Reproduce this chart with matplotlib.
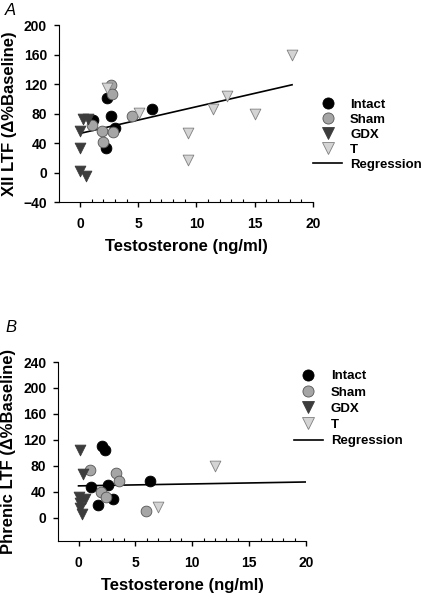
import numpy as np
import matplotlib
matplotlib.use('Agg')
import matplotlib.pyplot as plt
from matplotlib.lines import Line2D

plt.rcParams['font.family'] = ['Liberation Sans', 'DejaVu Sans']
plt.rcParams['font.weight'] = 'bold'
plt.rcParams['axes.labelweight'] = 'bold'

# panel A: XII LTF
a_intact_x = [1.1, 2.2, 2.3, 2.7, 3.0, 6.2]
a_intact_y = [71, 33, 101, 77, 60, 86]
a_sham_x = [1.0, 1.9, 2.0, 2.65, 2.75, 2.85, 4.5]
a_sham_y = [65, 57, 41, 119, 107, 55, 76]
a_gdx_x = [0.0, 0.0, 0.0, 0.5, 0.3, 0.7]
a_gdx_y = [57, 33, 2, -5, 72, 72]
a_t_x = [2.3, 5.1, 9.3, 9.3, 11.4, 12.6, 15.0, 18.2]
a_t_y = [115, 81, 53, 17, 86, 104, 79, 159]
a_reg_x = [0.0, 18.2]
a_reg_y = [53, 119]

# panel B: phrenic LTF
b_intact_x = [2.05, 2.35, 1.1, 2.6, 1.75, 3.05, 6.3]
b_intact_y = [110, 104, 47, 51, 19, 29, 57]
b_sham_x = [1.0, 3.3, 3.55, 1.95, 2.4, 5.9]
b_sham_y = [73, 69, 56, 40, 32, 10]
b_gdx_x = [0.15, 0.4, 0.0, 0.55, 0.1, 0.15, 0.3]
b_gdx_y = [104, 67, 32, 29, 22, 15, 5]
b_t_x = [7.0, 12.0]
b_t_y = [16, 80]
b_reg_x = [0.0, 20.0]
b_reg_y = [49, 55]

groups = ['Intact', 'Sham', 'GDX', 'T']
styles = {
    'Intact': dict(marker='o', c='black', edgecolors='black'),
    'Sham': dict(marker='o', c='#a5a5a5', edgecolors='#555555'),
    'GDX': dict(marker='v', c='#3c3c3c', edgecolors='#3c3c3c'),
    'T': dict(marker='v', c='#d4d4d4', edgecolors='#808080'),
}

fig = plt.figure(figsize=(4.3, 5.96), dpi=100)


def panel(rect, data, reg, ylim, yticks, ylabel, letter, letter_y, leg_anchor, leg_space):
    ax = fig.add_axes(rect)
    for g, (xs, ys) in zip(groups, data):
        ax.scatter(xs, ys, s=60, linewidths=0.6, zorder=3, **styles[g])
    ax.plot(reg[0], reg[1], color='black', lw=1.2, zorder=2)
    ax.set_xlim(-1.8, 20)
    ax.set_ylim(*ylim)
    ax.set_xticks([0, 5, 10, 15, 20])
    ax.set_xticks(np.arange(0, 21, 1), minor=True)
    ax.set_yticks(yticks)
    ax.tick_params(axis='both', labelsize=10, width=1, length=3.5, pad=5)
    ax.tick_params(axis='x', which='minor', length=2, width=0.8, direction='in')
    ax.tick_params(axis='x', pad=7)
    for lbl in ax.get_xticklabels() + ax.get_yticklabels():
        lbl.set_fontweight('bold')
    ax.spines['top'].set_visible(False)
    ax.spines['right'].set_visible(False)
    ax.set_xlabel('Testosterone (ng/ml)', fontsize=12, labelpad=6)
    ax.set_ylabel(ylabel, fontsize=12, labelpad=5)
    fig.text(0.012, letter_y, letter, fontsize=12, style='italic',
             fontweight='normal', va='center')
    handles = [Line2D([], [], linestyle='none', markersize=8,
                      marker=styles[g]['marker'], markerfacecolor=styles[g]['c'],
                      markeredgecolor=styles[g]['edgecolors'], markeredgewidth=0.6)
               for g in groups]
    handles.append(Line2D([], [], color='black', lw=1.2))
    ax.legend(handles, groups + ['Regression'], loc='upper left',
              bbox_to_anchor=leg_anchor, bbox_transform=fig.transFigure,
              frameon=False, fontsize=9.5, handlelength=2.2, handletextpad=0.6,
              labelspacing=leg_space, borderpad=0)
    return ax


panel([0.137, 0.661, 0.591, 0.297],
      [(a_intact_x, a_intact_y), (a_sham_x, a_sham_y), (a_gdx_x, a_gdx_y), (a_t_x, a_t_y)],
      (a_reg_x, a_reg_y), (-40, 200), [-40, 0, 40, 80, 120, 160, 200],
      'XII LTF (\u0394%Baseline)', 'A', 0.983, (0.713, 0.846), 0.21)

panel([0.135, 0.0923, 0.577, 0.3003],
      [(b_intact_x, b_intact_y), (b_sham_x, b_sham_y), (b_gdx_x, b_gdx_y), (b_t_x, b_t_y)],
      (b_reg_x, b_reg_y), (-36, 240), [0, 40, 80, 120, 160, 200, 240],
      'Phrenic LTF (\u0394%Baseline)', 'B', 0.45, (0.668, 0.390), 0.3)

fig.savefig('out.png', dpi=100)
